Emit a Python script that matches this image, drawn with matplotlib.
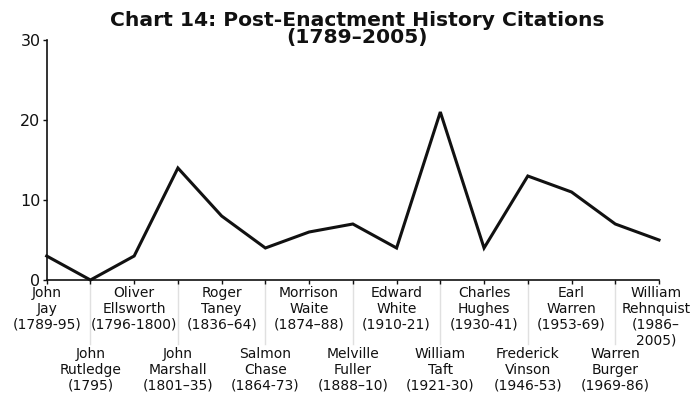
import matplotlib
matplotlib.use("Agg")
import matplotlib.pyplot as plt

# Chief justices (label text) and post-enactment history citations per tenure
justices = [
    "John\nJay\n(1789-95)",
    "John\nRutledge\n(1795)",
    "Oliver\nEllsworth\n(1796-1800)",
    "John\nMarshall\n(1801\u201335)",
    "Roger\nTaney\n(1836\u201364)",
    "Salmon\nChase\n(1864-73)",
    "Morrison\nWaite\n(1874\u201388)",
    "Melville\nFuller\n(1888\u201310)",
    "Edward\nWhite\n(1910-21)",
    "William\nTaft\n(1921-30)",
    "Charles\nHughes\n(1930-41)",
    "Frederick\nVinson\n(1946-53)",
    "Earl\nWarren\n(1953-69)",
    "Warren\nBurger\n(1969-86)",
    "William\nRehnquist\n(1986\u2013\n2005)",
]
citations = [3, 0, 3, 14, 8, 4, 6, 7, 4, 21, 4, 13, 11, 7, 5]
y_ticks = [0, 10, 20, 30]
title_lines = ["Chart 14: Post-Enactment History Citations", "(1789\u20132005)"]

W, H, DPI = 692, 396, 100
fig = plt.figure(figsize=(W / DPI, H / DPI), dpi=DPI)
left_px, right_px, top_px, bottom_px = 46.7, 659, 40, 280
ax = fig.add_axes([left_px / W, 1 - bottom_px / H,
                   (right_px - left_px) / W, (bottom_px - top_px) / H])

x = list(range(len(citations)))
ax.plot(x, citations, color="#111111", lw=2.2, solid_joinstyle="miter",
        clip_on=False, zorder=3)

ax.set_xlim(0, len(citations) - 1)
ax.set_ylim(0, 30)
ax.set_yticks(y_ticks)
ax.set_xticks(x)
ax.set_xticklabels([])
for s in ("top", "right"):
    ax.spines[s].set_visible(False)
for s in ("left", "bottom"):
    ax.spines[s].set_linewidth(1.2)
    ax.spines[s].set_color("#111111")
ax.tick_params(axis="y", length=3, width=1, pad=1.5, labelsize=11.5,
               colors="#111111")
ax.tick_params(axis="x", length=3, width=1, colors="#111111")

# Category labels in two staggered rows; the lower row gets leader lines
axes_h_px = bottom_px - top_px
xtrans = ax.get_xaxis_transform()
last = len(justices) - 1
for i, label in enumerate(justices):
    if i % 2 == 0:
        off = -6
    else:
        off = -67
        ax.plot([i, i], [0, -64 / axes_h_px], transform=xtrans,
                color="#e0e0e0", lw=1, clip_on=False, zorder=1)
    dx = -3 if i == last else 0
    ax.annotate(label, xy=(i, 0), xycoords=xtrans,
                xytext=(dx, off), textcoords="offset pixels",
                ha="center", va="top", fontsize=10, color="#111111",
                linespacing=1.18, annotation_clip=False)

# Two-line bold title
for k, (line, base_px) in enumerate(zip(title_lines, [25.5, 43.5])):
    fig.text(357 / W, 1 - base_px / H, line, ha="center", va="baseline",
             fontsize=14.6, fontweight="bold", color="#111111")

fig.savefig("out.png", dpi=DPI)
